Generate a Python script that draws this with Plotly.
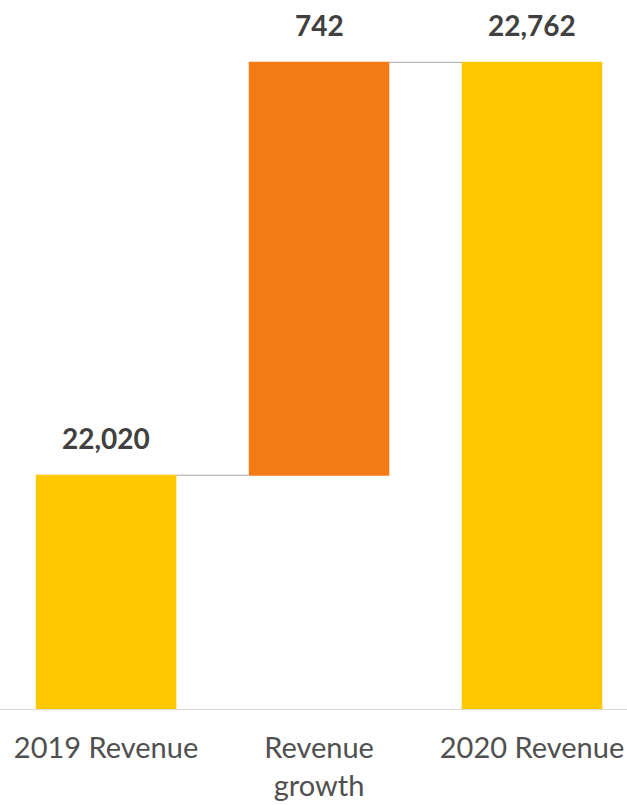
import plotly.graph_objects as go

categories = ["2019 Revenue", "Revenue<br>growth", "2020 Revenue"]
values = [22020, 742, 22762]
measures = ["absolute", "relative", "total"]
labels = ["22,020", "742", "22,762"]

YELLOW = "#FFC800"
ORANGE = "#F47A16"

tops = []
run = 0
for v, m in zip(values, measures):
    if m == "absolute":
        run = v
    elif m == "relative":
        run += v
    tops.append(run)

fig = go.Figure(go.Waterfall(
    x=categories,
    y=[values[0], values[1], 0],
    measure=measures,
    width=0.66,
    totals=dict(marker=dict(color=YELLOW)),
    increasing=dict(marker=dict(color=ORANGE)),
    decreasing=dict(marker=dict(color=ORANGE)),
    connector=dict(line=dict(color="#A6A6A6", width=1)),
    hoverinfo="skip",
))

for c, t, lab in zip(categories, tops, labels):
    fig.add_annotation(x=c, y=t, text=lab, showarrow=False, yanchor="middle",
                       yshift=37, font=dict(family="Lato", size=28, color="#404040", weight="bold"))

fig.update_layout(
    width=627, height=805,
    margin=dict(l=0, r=0, t=0, b=96),
    plot_bgcolor="white", paper_bgcolor="white",
    showlegend=False,
    xaxis=dict(range=[-0.498, 2.446], showgrid=False, showline=True, linecolor="#D9D9D9", linewidth=1,
               ticks="outside", ticklen=13, tickcolor="rgba(0,0,0,0)",
               tickfont=dict(family="Lato", size=29, color="#505050")),
    yaxis=dict(range=[21600, 22874], visible=False, showgrid=False),
)

fig.write_html("out.html", config={"displayModeBar": False},
               post_script="document.body.style.margin='0';document.body.style.overflow='hidden';")
